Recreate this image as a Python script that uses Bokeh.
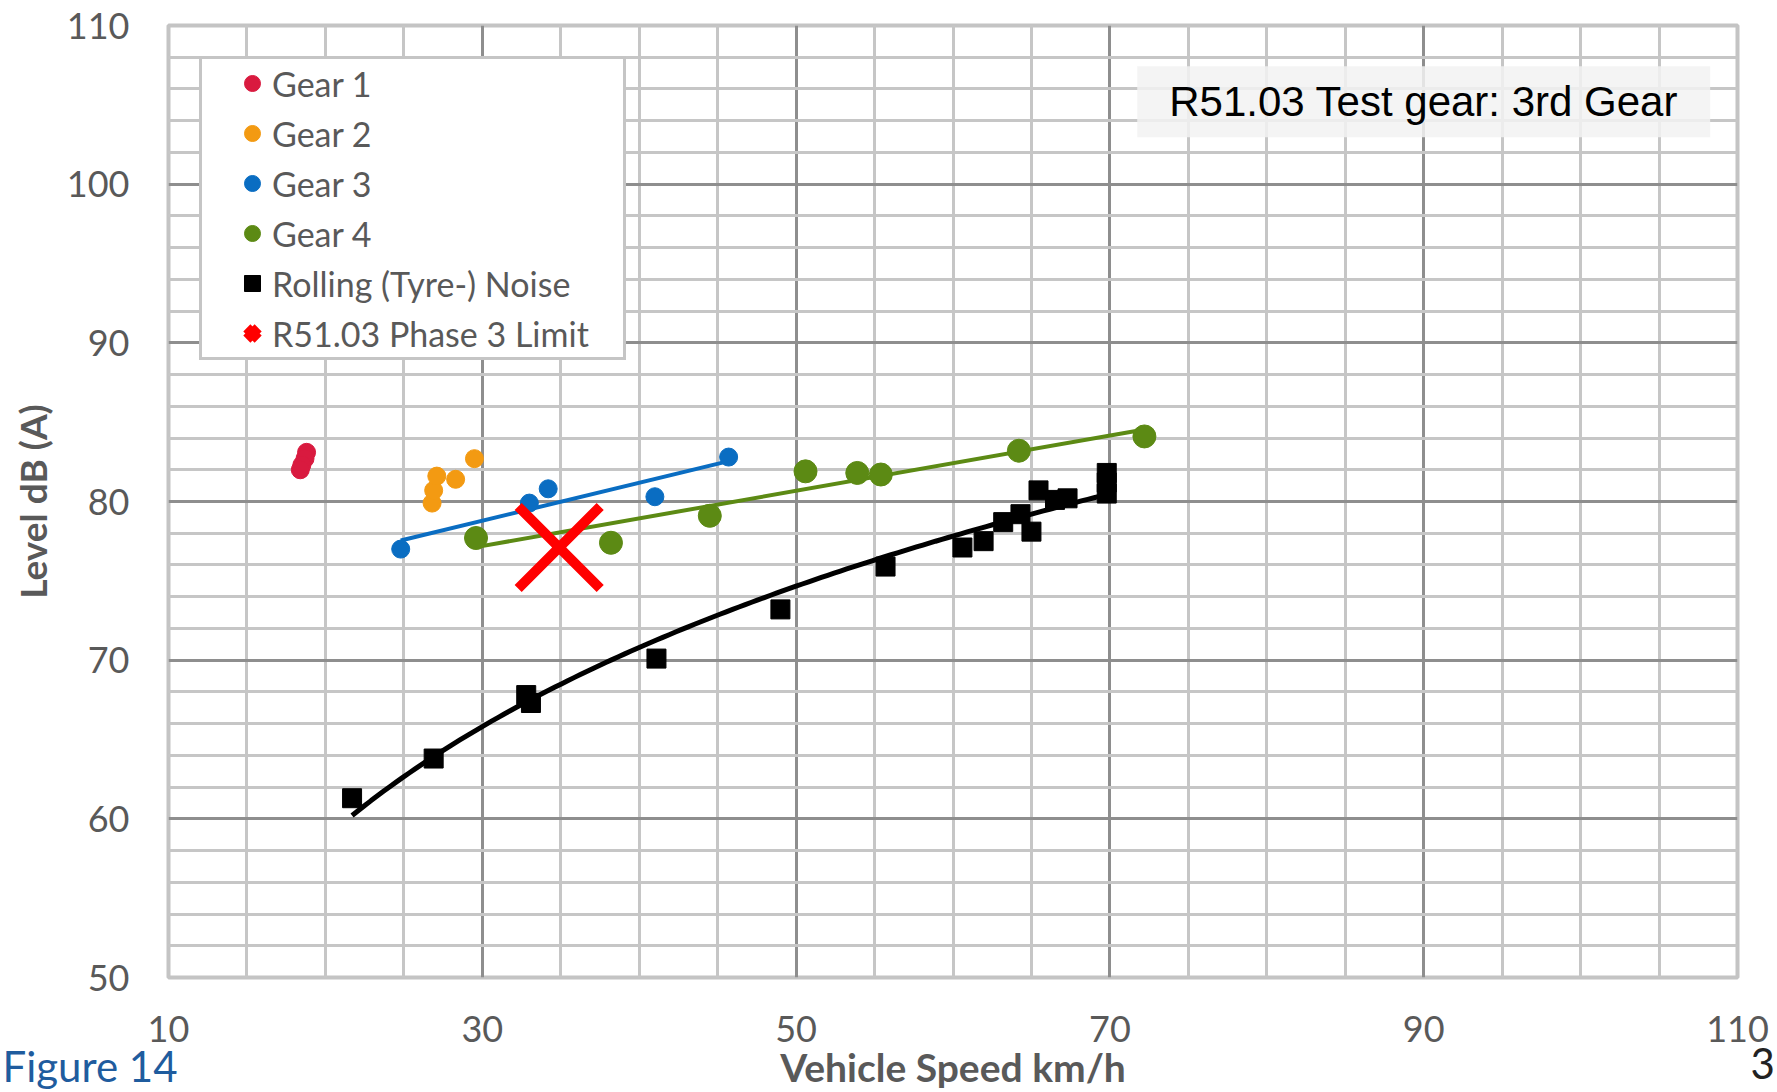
import numpy as np
from bokeh.plotting import figure
from bokeh.models import Range1d, FixedTicker, Legend, LegendItem, Label, Title
from bokeh.embed import file_html
from bokeh.resources import INLINE

# ---- data ----
gear1_x = [18.8, 18.7, 18.5, 18.4]
gear1_y = [83.1, 82.7, 82.3, 82.0]
gear2_x = [26.8, 26.9, 27.1, 28.3, 29.5]
gear2_y = [79.9, 80.7, 81.6, 81.4, 82.7]
gear3_x = [24.8, 33.0, 34.2, 41.0, 45.7]
gear3_y = [77.0, 79.9, 80.8, 80.3, 82.8]
gear4_x = [29.6, 38.2, 44.5, 50.6, 53.9, 55.4, 64.2, 72.2]
gear4_y = [77.7, 77.4, 79.1, 81.9, 81.8, 81.7, 83.2, 84.1]
rolling_x = [21.7, 26.9, 32.8, 33.1, 41.1, 49.0, 55.7, 60.6, 61.95, 63.2,
             64.3, 65.0, 65.45, 66.5, 67.3, 69.8, 69.8, 69.8]
rolling_y = [61.3, 63.8, 67.8, 67.3, 70.1, 73.2, 75.9, 77.1, 77.5, 78.7,
             79.2, 78.1, 80.7, 80.1, 80.2, 81.8, 81.2, 80.5]
limit_x = [34.9]
limit_y = [77.1]

x_ticks = [10, 30, 50, 70, 90, 110]
y_ticks = [50, 60, 70, 80, 90, 100, 110]
legend_labels = ["Gear 1", "Gear 2", "Gear 3", "Gear 4",
                 "Rolling (Tyre-) Noise", "R51.03 Phase 3 Limit"]
box_text = "R51.03 Test gear: 3rd Gear"
x_title = "Vehicle Speed km/h"
y_title = "Level dB (A)"

# ---- colours ----
C1, C2, C3, C4 = "#D91A3F", "#F39A12", "#0A6DC2", "#5C8A14"
TXT = "#595959"

p = figure(width=1777, height=1092, output_backend="svg", toolbar_location=None,
           x_range=Range1d(10, 110), y_range=Range1d(50, 110),
           min_border_left=168, min_border_right=40, min_border_top=25,
           min_border_bottom=114)
p.background_fill_color = "white"
p.border_fill_color = "white"
p.outline_line_color = "#c4c4c4"
p.outline_line_width = 4

# axes
p.xaxis.ticker = FixedTicker(ticks=x_ticks)
p.yaxis.ticker = FixedTicker(ticks=y_ticks)
for ax in (p.xaxis[0], p.yaxis[0]):
    ax.axis_line_color = None
    ax.major_tick_line_color = None
    ax.minor_tick_line_color = None
    ax.major_label_text_font = "Lato"
    ax.major_label_text_font_size = "36px"
    ax.major_label_text_color = TXT
    ax.axis_label_text_font = "Lato"
    ax.axis_label_text_font_style = "bold"
    ax.axis_label_text_color = TXT
p.xaxis.axis_label = x_title
p.yaxis.axis_label = y_title
p.xaxis.axis_label_text_font_size = "39px"
p.yaxis.axis_label_text_font_size = "37px"
p.xaxis.major_label_standoff = 32
p.xaxis.axis_label_standoff = -1
p.yaxis.major_label_standoff = 33
p.yaxis.axis_label_standoff = 9

# grid
xmin = [v for v in range(15, 110, 5) if v not in x_ticks]
ymin = [v for v in range(52, 110, 2) if v not in y_ticks]
p.xgrid.ticker = FixedTicker(ticks=x_ticks[1:], minor_ticks=xmin)
p.ygrid.ticker = FixedTicker(ticks=y_ticks[1:], minor_ticks=ymin)
for g in (p.xgrid[0], p.ygrid[0]):
    g.grid_line_color = "#8e8e8e"
    g.grid_line_width = 3
    g.minor_grid_line_color = "#c6c6c6"
    g.minor_grid_line_width = 3

# trend lines
f3 = np.polyfit(gear3_x, gear3_y, 1)
t3x = np.array([min(gear3_x), max(gear3_x)])
p.line(t3x, np.polyval(f3, t3x), line_color=C3, line_width=4)
f4 = np.polyfit(gear4_x, gear4_y, 1)
t4x = np.array([min(gear4_x), max(gear4_x)])
p.line(t4x, np.polyval(f4, t4x), line_color=C4, line_width=4)
fr = np.polyfit(np.log(rolling_x), rolling_y, 1)
trx = np.linspace(min(rolling_x), max(rolling_x), 120)
p.line(trx, np.polyval(fr, np.log(trx)), line_color="black", line_width=5)

# points
r1 = p.scatter(gear1_x, gear1_y, marker="circle", size=18, fill_color=C1, line_color=C1)
r2 = p.scatter(gear2_x, gear2_y, marker="circle", size=18, fill_color=C2, line_color=C2)
r3 = p.scatter(gear3_x, gear3_y, marker="circle", size=18, fill_color=C3, line_color=C3)
r4 = p.scatter(gear4_x, gear4_y, marker="circle", size=23, fill_color=C4, line_color=C4)
r5 = p.scatter(rolling_x, rolling_y, marker="square", size=19, fill_color="black", line_color="black")
r6 = p.scatter(limit_x, limit_y, marker="x", size=116, line_color="#FF0000", line_width=10)

legend = Legend(items=[LegendItem(label=l, renderers=[r]) for l, r in
                       zip(legend_labels, [r1, r2, r3, r4, r5, r6])],
                location="top_left")
legend.margin = 31
try:
    legend.padding = (30, 3)
    legend.glyph_width = 40
    legend.label_standoff = 0
    legend.label_width = 321
except Exception:
    legend.padding = 3
    legend.glyph_width = 92
    legend.label_standoff = 0
    legend.label_width = 300
legend.glyph_height = 42
legend.label_height = 42
legend.spacing = 8
legend.label_text_font = "Lato"
legend.label_text_font_size = "34px"
legend.label_text_color = TXT
legend.border_line_color = "#8c8c8c"
legend.border_line_width = 3
legend.background_fill_color = "white"
legend.background_fill_alpha = 1.0
p.add_layout(legend)

p.add_layout(Label(x=90, y=105.2, text=box_text, text_font="Liberation Sans",
                   text_font_size="42px", text_color="black", text_align="center",
                   text_baseline="middle", background_fill_color="#F2F2F2",
                   background_fill_alpha=0.85, padding=(32, 12)))

# page fragments below the chart (zero-height title panels at the page bottom)
for txt, off, col, so in (("3", 1582, "#222222", -90),
                          ("Figure 14", -166, "#1F5C9E", -104)):
    t = Title(text=txt, align="left", vertical_align="top", offset=off,
              text_font="Lato", text_font_size="42px", text_font_style="normal",
              text_color=col)
    try:
        t.standoff = so
        p.add_layout(t, "below")
    except Exception:
        pass

open("out.html", "w").write(file_html(p, INLINE))
